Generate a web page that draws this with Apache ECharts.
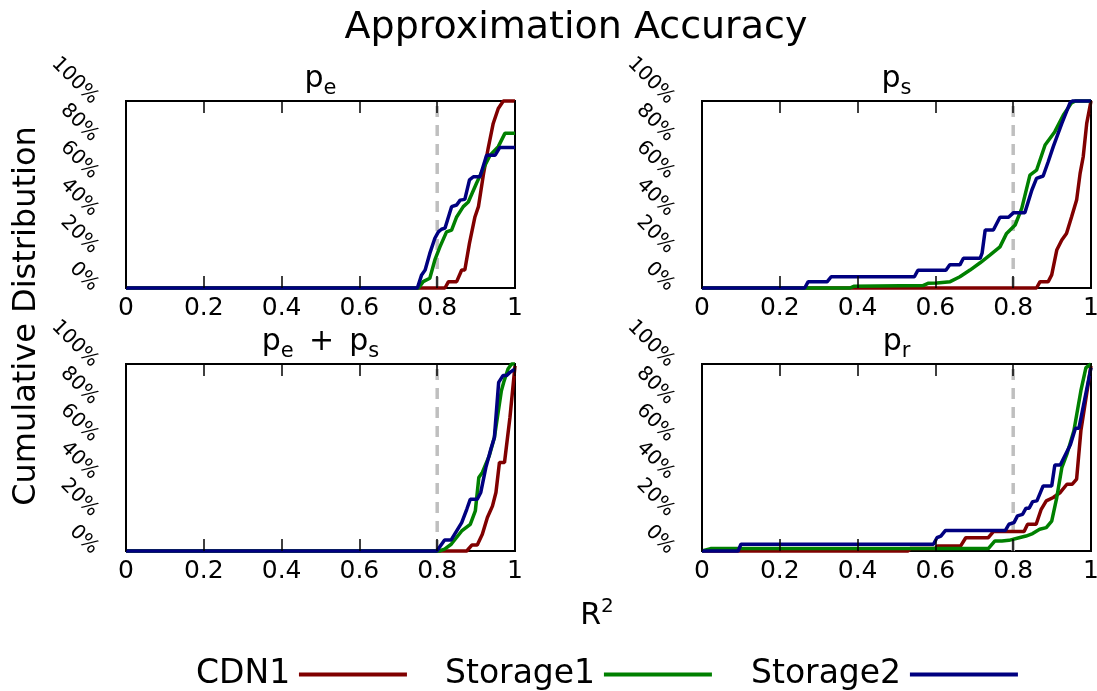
<!DOCTYPE html>
<html><head><meta charset="utf-8">
<script src="https://cdn.jsdelivr.net/npm/echarts@6/dist/echarts.min.js"></script>
<style>html,body{margin:0;padding:0;background:#fff}#c{width:1097px;height:691px}</style>
</head><body><div id="c"></div><script>
// ---------- data ----------
const seriesNames = ['CDN1', 'Storage1', 'Storage2'];
const seriesColors = ['#800000', '#008000', '#000080'];
const panelTitles = ['{m|p}{s|e}', '{m|p}{s|s}', '{m|p}{s|e}{g| }{m| + }{g| }{m|p}{s|s}', '{m|p}{s|r}'];
const refLineX = 0.8;

// panel p_e  : [R^2, cumulative %]
const pe_CDN1 = [[0,0],[0.820,0],[0.829,3.4],[0.850,3.4],[0.863,9.6],[0.871,9.6],[0.883,24],[0.897,38],[0.906,43.5],[0.919,61],[0.931,74.7],[0.944,88],[0.957,96],[0.970,100],[1,100]];
const pe_Storage1 = [[0,0],[0.752,0],[0.764,3.4],[0.781,5.2],[0.794,15],[0.807,22],[0.824,30],[0.837,31],[0.850,38],[0.867,43.5],[0.880,46],[0.901,56],[0.919,64],[0.936,71],[0.957,75.6],[0.974,82.7],[1,82.7]];
const pe_Storage2 = [[0,0],[0.749,0],[0.760,7],[0.769,9.6],[0.781,18.5],[0.794,26.6],[0.803,30],[0.811,31.4],[0.820,32],[0.837,43.5],[0.850,44.4],[0.859,47],[0.871,47.4],[0.883,57.8],[0.893,59.5],[0.910,59.5],[0.927,71],[0.949,71],[0.961,75.2],[1,75.2]];

// panel p_s
const ps_CDN1 = [[0,0],[0.860,0],[0.869,3.4],[0.890,3.4],[0.899,7],[0.912,20.3],[0.925,25.7],[0.937,29.2],[0.950,38],[0.963,47],[0.972,61.3],[0.980,70.2],[0.989,88],[1,100]];
const ps_Storage1 = [[0,0],[0.380,0],[0.390,0.9],[0.568,1.3],[0.581,2.5],[0.604,2.7],[0.638,3.4],[0.663,6],[0.689,9.6],[0.715,13.5],[0.740,17.6],[0.766,22],[0.783,29.2],[0.805,33.7],[0.822,42.6],[0.843,60.4],[0.860,63],[0.882,76.5],[0.907,83.6],[0.929,92.5],[0.950,99],[0.960,100],[1,100]];
const ps_Storage2 = [[0,0],[0.264,0],[0.273,3.4],[0.322,3.4],[0.332,6],[0.546,6],[0.555,9.5],[0.627,9.5],[0.637,12.4],[0.663,12.4],[0.672,15.9],[0.715,15.9],[0.720,18.6],[0.728,31],[0.749,31],[0.766,37.8],[0.788,37.8],[0.801,40.3],[0.830,40.3],[0.848,52.4],[0.860,58.6],[0.877,59.9],[0.890,67.5],[0.903,75.6],[0.925,88],[0.946,99],[0.952,100],[1,100]];

// panel p_e + p_s
const pes_CDN1 = [[0,0],[0.876,0],[0.889,3.2],[0.903,3.2],[0.916,8.9],[0.929,17.9],[0.942,24],[0.951,31.3],[0.960,47.3],[0.973,47.3],[0.987,71.4],[1,99]];
const pes_Storage1 = [[0,0],[0.805,0],[0.819,1],[0.836,3.6],[0.863,10.7],[0.885,14.3],[0.898,21.4],[0.907,39.3],[0.916,42],[0.934,51],[0.947,60.7],[0.965,85.7],[0.971,90.2],[0.982,97.3],[0.991,100],[1,100]];
const pes_Storage2 = [[0,0],[0.799,0],[0.819,5.9],[0.836,5.9],[0.863,15.2],[0.876,22.3],[0.885,27.7],[0.903,27.7],[0.912,31.3],[0.925,44.6],[0.938,54.5],[0.947,60.7],[0.958,90.2],[0.969,93.8],[0.978,93.8],[0.987,95.5],[1,97.3]];

// panel p_r
const pr_CDN1 = [[0,0],[0.530,0],[0.535,1.3],[0.600,1.3],[0.605,2.7],[0.665,2.7],[0.678,7.1],[0.736,7.1],[0.749,10.4],[0.828,10.4],[0.837,14.3],[0.859,14.3],[0.872,22.3],[0.885,26.8],[0.903,28.6],[0.921,31.3],[0.938,35.7],[0.952,35.7],[0.963,38.4],[0.974,64.3],[1,99]];
const pr_Storage1 = [[0,0],[0.022,1.3],[0.736,1.3],[0.753,5.4],[0.771,5.4],[0.789,5.7],[0.815,7.1],[0.833,8],[0.850,9.3],[0.868,11.6],[0.885,12.5],[0.899,16],[0.912,28.6],[0.925,44.6],[0.938,51.8],[0.956,64.3],[0.974,85.7],[0.987,98],[1,100]];
const pr_Storage2 = [[0,0],[0.093,0],[0.100,3.6],[0.595,3.6],[0.604,7.1],[0.614,8],[0.626,11],[0.780,11],[0.789,14.3],[0.802,15.2],[0.811,18.8],[0.824,19.6],[0.833,22.9],[0.841,22.9],[0.850,26.4],[0.861,26.8],[0.877,34.8],[0.899,34.8],[0.907,46],[0.921,46],[0.947,56.8],[0.960,65.7],[0.969,65.7],[1,98]];

const panels = [
  [pe_CDN1, pe_Storage1, pe_Storage2],
  [ps_CDN1, ps_Storage1, ps_Storage2],
  [pes_CDN1, pes_Storage1, pes_Storage2],
  [pr_CDN1, pr_Storage1, pr_Storage2]
];

// ---------- layout ----------
const FONT = 'DejaVu Sans';
const gridRects = [
  {left: 126, top: 101}, {left: 702, top: 101},
  {left: 126, top: 364}, {left: 702, top: 364}
];
const GW = 389, GH = 187, TICK = 12;

const grid = gridRects.map(r => ({
  left: r.left, top: r.top, width: GW, height: GH,
  show: true, borderColor: '#000', borderWidth: 2, backgroundColor: 'transparent',
  containLabel: false, outerBoundsMode: 'none'
}));

const xAxis = [];
const yAxis = [];
gridRects.forEach((r, i) => {
  xAxis.push({
    type: 'value', gridIndex: i, position: 'bottom', min: 0, max: 1, interval: 0.2, z: 3,
    axisLine: {show: false}, splitLine: {show: false},
    axisTick: {show: true, inside: true, length: TICK, lineStyle: {color: '#000', width: 1.5}},
    axisLabel: {show: true, interval: 0, showMinLabel: true, showMaxLabel: true, margin: 8,
      fontSize: 25, fontFamily: FONT, color: '#000'}
  });
});
gridRects.forEach((r, i) => {
  xAxis.push({
    type: 'value', gridIndex: i, position: 'top', min: 0, max: 1, interval: 0.2, z: 3,
    axisLine: {show: false}, splitLine: {show: false},
    axisTick: {show: true, inside: true, length: TICK, lineStyle: {color: '#000', width: 1.5}},
    axisLabel: {show: false}
  });
  yAxis.push({
    type: 'value', gridIndex: i, min: 0, max: 100, interval: 20,
    axisLine: {show: false}, splitLine: {show: false}, axisTick: {show: false},
    axisLabel: {show: true, rotate: -45, margin: 31, formatter: '{value}%',
      fontSize: 20, fontFamily: FONT, color: '#000'}
  });
});

const series = [];
panels.forEach((p, i) => {
  series.push({
    name: 'ref', type: 'line', xAxisIndex: i, yAxisIndex: i, z: 1,
    data: [[refLineX, 0], [refLineX, 100]], showSymbol: false, silent: true,
    lineStyle: {color: '#bfbfbf', width: 3.5, type: [11, 8]}
  });
  p.forEach((d, k) => {
    series.push({
      name: seriesNames[k], type: 'line', xAxisIndex: i, yAxisIndex: i, z: 2,
      data: d, showSymbol: false, symbol: 'none', clip: false,
      color: seriesColors[k], itemStyle: {color: seriesColors[k]},
      lineStyle: {color: seriesColors[k], width: 3.5}
    });
  });
});

const titleCenters = gridRects.map(r => ({x: r.left + GW / 2, y: r.top - 22}));
const subRich = {
  m: {fontSize: 30, fontFamily: FONT, fontWeight: 'normal', color: '#000'},
  g: {fontSize: 18, fontFamily: FONT, fontWeight: 'normal', color: '#000'},
  s: {fontSize: 21, fontFamily: FONT, fontWeight: 'normal', color: '#000', padding: [19, 0, 0, 0]}
};
const title = [{
  text: 'Approximation Accuracy', left: 576, top: 28, textAlign: 'center', textVerticalAlign: 'middle',
  padding: 0, textStyle: {fontSize: 38, fontFamily: FONT, fontWeight: 'normal', color: '#000'}
}, {
  text: '{m|R}{u|2}', left: 597, top: 616, textAlign: 'center', textVerticalAlign: 'middle', padding: 0,
  textStyle: {fontWeight: 'normal', rich: {
    m: {fontSize: 30, fontFamily: FONT, fontWeight: 'normal', color: '#000'},
    u: {fontSize: 20, fontFamily: FONT, fontWeight: 'normal', color: '#000', padding: [0, 0, 19, 0]}
  }}
}].concat(panelTitles.map((t, i) => ({
  text: t, left: titleCenters[i].x, top: titleCenters[i].y, textAlign: 'center', textVerticalAlign: 'middle',
  padding: 0, textStyle: {fontWeight: 'normal', rich: subRich}
})));

const legendLefts = [191, 440, 746];
const legend = seriesNames.map((n, k) => ({
  data: [n], left: legendLefts[k], top: 653, align: 'right', icon: 'rect',
  itemWidth: 108, itemHeight: 4, selectedMode: false, padding: 5,
  formatter: name => '{t|' + name + '}{g| }',
  textStyle: {fontSize: 33, fontFamily: FONT, color: '#000', rich: {
    t: {fontSize: 33, fontFamily: FONT, color: '#000'},
    g: {fontSize: 12, fontFamily: FONT, color: '#000'}
  }}
}));

const chart = echarts.init(document.getElementById('c'), null, {renderer: 'canvas'});
chart.setOption({
  backgroundColor: '#fff',
  animation: false,
  textStyle: {fontFamily: FONT},
  title, legend, grid, xAxis, yAxis, series,
  graphic: [{
    type: 'text', x: 26.5, y: 316, rotation: Math.PI / 2,
    style: {text: 'Cumulative Distribution', font: '32px "DejaVu Sans"', fill: '#000',
      textAlign: 'center', textVerticalAlign: 'middle'}
  }]
});
</script></body></html>
